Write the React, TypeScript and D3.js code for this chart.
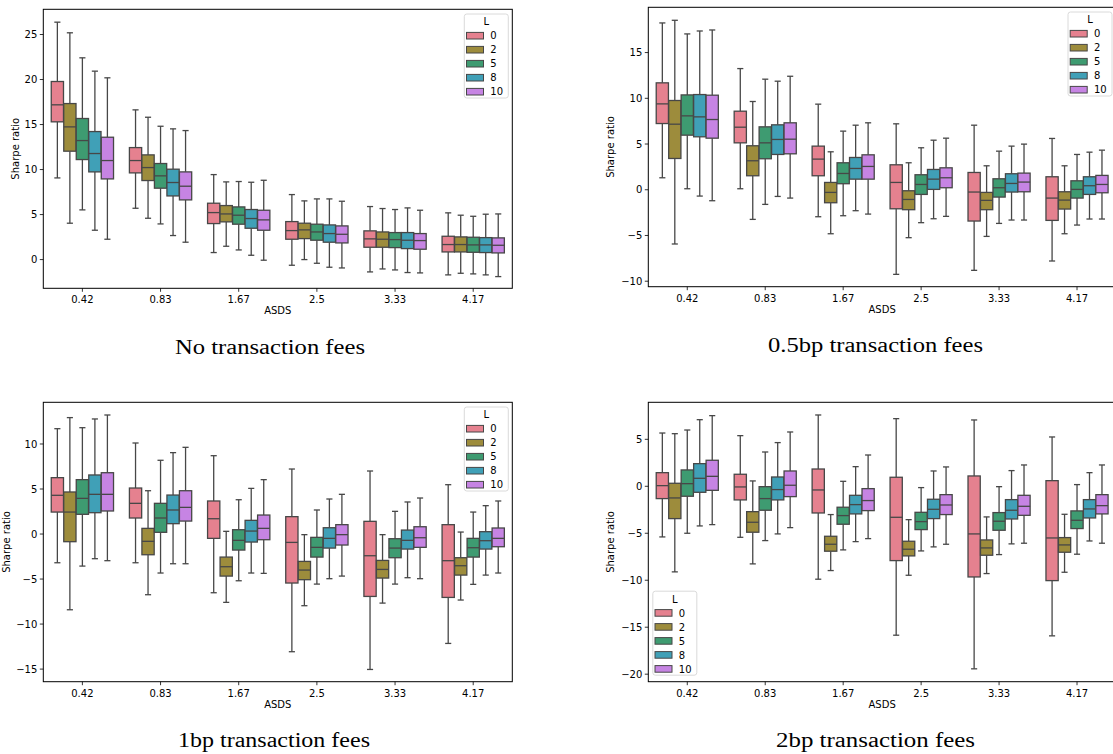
import React from 'react';
import * as d3 from 'd3';

// ---------- data ----------
const CATEGORIES = ['0.42', '0.83', '1.67', '2.5', '3.33', '4.17'];
const L_LEVELS = ['0', '2', '5', '8', '10'];
const COLORS = ['#e5818f', '#9d8c3c', '#3e9b71', '#40a0b7', '#c684e3'];

// each box: [lower whisker, q1, median, q3, upper whisker]
const noFees = [
  [[9.07, 15.3, 17.19, 19.78, 26.37], [4.04, 12.04, 14.74, 17.33, 25.19], [5.52, 11.11, 13.22, 15.67, 22.41], [3.26, 9.74, 11.78, 14.22, 20.93], [2.26, 8.96, 11.0, 13.59, 20.19]],
  [[5.7, 9.63, 11.0, 12.44, 16.63], [4.59, 8.78, 10.22, 11.63, 15.81], [3.96, 7.93, 9.3, 10.67, 14.81], [2.67, 7.07, 8.56, 10.04, 14.52], [1.93, 6.63, 8.15, 9.74, 14.33]],
  [[0.78, 4.0, 5.22, 6.26, 9.44], [1.48, 4.19, 5.07, 6.0, 8.63], [1.07, 3.93, 4.93, 5.85, 8.67], [0.48, 3.48, 4.56, 5.56, 8.59], [-0.07, 3.26, 4.41, 5.48, 8.81]],
  [[-0.63, 2.26, 3.22, 4.22, 7.22], [0.0, 2.33, 3.3, 4.04, 6.52], [-0.41, 2.15, 3.07, 3.93, 6.74], [-0.85, 1.93, 2.89, 3.85, 6.74], [-0.93, 1.85, 2.81, 3.74, 6.48]],
  [[-1.37, 1.37, 2.3, 3.19, 5.89], [-1.04, 1.37, 2.26, 3.07, 5.67], [-1.15, 1.33, 2.22, 3.0, 5.56], [-1.44, 1.22, 2.15, 3.0, 5.74], [-1.48, 1.15, 2.11, 2.89, 5.48]],
  [[-1.7, 0.85, 1.67, 2.59, 5.19], [-1.52, 0.85, 1.67, 2.52, 4.93], [-1.59, 0.81, 1.63, 2.48, 4.81], [-1.7, 0.78, 1.63, 2.44, 5.04], [-1.89, 0.74, 1.59, 2.41, 5.07]],
];

const fees05bp = [
  [[1.31, 7.24, 9.39, 11.69, 18.24], [-5.93, 3.42, 7.17, 9.76, 18.53], [0.11, 5.97, 8.08, 10.37, 17.04], [-0.69, 5.79, 7.97, 10.41, 17.36], [-1.2, 5.64, 7.68, 10.34, 17.47]],
  [[0.11, 5.13, 6.84, 8.59, 13.25], [-3.24, 1.53, 3.17, 4.81, 9.65], [-1.6, 3.39, 5.13, 6.88, 12.09], [-0.73, 3.86, 5.5, 7.1, 11.87], [-0.91, 3.93, 5.53, 7.32, 12.41]],
  [[-2.95, 1.53, 3.35, 4.77, 9.36], [-4.81, -1.42, -0.29, 0.8, 4.15], [-2.84, 0.66, 1.78, 2.95, 6.41], [-2.29, 1.16, 2.33, 3.53, 7.06], [-2.66, 1.16, 2.55, 3.82, 7.32]],
  [[-9.25, -2.08, 0.8, 2.73, 7.21], [-5.24, -2.18, -1.06, -0.11, 2.95], [-3.6, -0.51, 0.58, 1.64, 4.59], [-3.17, 0.04, 1.16, 2.22, 5.42], [-2.91, 0.22, 1.31, 2.4, 5.64]],
  [[-8.81, -3.42, -0.25, 1.89, 7.06], [-5.1, -2.18, -1.16, -0.29, 2.62], [-3.68, -0.8, 0.22, 1.2, 4.22], [-3.31, -0.25, 0.69, 1.75, 4.77], [-3.31, -0.22, 0.84, 1.82, 4.99]],
  [[-7.79, -3.35, -0.91, 1.42, 5.61], [-4.81, -2.11, -1.13, -0.22, 2.62], [-3.86, -0.91, 0.04, 0.98, 3.86], [-3.2, -0.51, 0.44, 1.42, 4.11], [-3.2, -0.33, 0.58, 1.57, 4.33]],
];

const fees1bp = [
  [[-3.19, 2.44, 4.3, 6.26, 11.7], [-8.41, -0.85, 2.44, 4.67, 12.93], [-3.56, 2.19, 3.96, 6.04, 11.81], [-2.74, 2.37, 4.41, 6.56, 12.78], [-2.96, 2.56, 4.41, 6.81, 13.22]],
  [[-3.19, 1.78, 3.41, 5.11, 10.11], [-6.74, -2.3, -0.81, 0.63, 4.81], [-4.33, 0.19, 1.78, 3.41, 8.19], [-3.3, 1.15, 2.67, 4.33, 9.04], [-3.3, 1.44, 2.96, 4.81, 9.63]],
  [[-6.52, -0.48, 1.7, 3.67, 8.7], [-7.59, -4.67, -3.63, -2.56, 0.3], [-5.19, -1.78, -0.7, 0.48, 3.81], [-4.33, -0.89, 0.33, 1.52, 5.07], [-4.37, -0.63, 0.63, 2.11, 6.04]],
  [[-13.07, -5.44, -0.93, 1.93, 7.22], [-7.96, -5.07, -4.0, -3.04, -0.07], [-5.56, -2.56, -1.48, -0.37, 2.67], [-4.96, -1.56, -0.48, 0.7, 3.89], [-4.67, -1.22, -0.07, 1.04, 4.41]],
  [[-15.04, -6.93, -2.41, 1.41, 7.0], [-7.67, -4.89, -3.93, -2.93, -0.07], [-5.56, -2.63, -1.56, -0.52, 2.52], [-4.85, -1.67, -0.7, 0.44, 3.56], [-4.96, -1.48, -0.41, 0.81, 4.0]],
  [[-12.15, -7.04, -2.96, 1.04, 5.48], [-7.33, -4.56, -3.52, -2.63, 0.22], [-5.59, -2.56, -1.52, -0.48, 2.44], [-4.56, -1.67, -0.74, 0.26, 3.15], [-4.33, -1.41, -0.48, 0.67, 3.67]],
];

const fees2bp = [
  [[-5.39, -1.31, 0.07, 1.45, 5.67], [-9.11, -3.44, -1.24, 0.32, 5.6], [-5.0, -1.06, 0.28, 1.74, 5.99], [-4.22, -0.64, 0.85, 2.41, 7.09], [-4.08, -0.43, 1.06, 2.77, 7.52]],
  [[-5.43, -1.45, -0.07, 1.28, 5.39], [-8.26, -4.89, -3.83, -2.7, 0.57], [-5.78, -2.55, -1.31, -0.04, 3.65], [-5.07, -1.45, -0.35, 0.99, 4.65], [-4.4, -1.1, 0.11, 1.63, 5.78]],
  [[-9.89, -2.84, -0.39, 1.84, 7.59], [-8.97, -6.91, -6.17, -5.32, -3.01], [-6.77, -4.04, -3.12, -2.23, 0.53], [-5.89, -2.94, -1.95, -0.96, 2.09], [-5.57, -2.59, -1.52, -0.25, 3.33]],
  [[-15.85, -7.91, -3.3, 0.96, 7.2], [-9.47, -7.41, -6.7, -5.85, -3.55], [-6.88, -4.61, -3.76, -2.77, -0.14], [-6.45, -3.44, -2.45, -1.38, 1.63], [-6.17, -3.01, -1.99, -0.89, 2.06]],
  [[-19.43, -9.65, -5.07, 1.1, 7.06], [-9.29, -7.34, -6.56, -5.71, -3.26], [-7.27, -4.68, -3.72, -2.8, -0.04], [-6.13, -3.48, -2.55, -1.42, 1.67], [-6.06, -3.09, -2.13, -0.96, 2.27]],
  [[-15.92, -10.04, -5.5, 0.6, 5.25], [-9.15, -7.02, -6.24, -5.46, -2.98], [-7.23, -4.5, -3.62, -2.62, 0.18], [-5.82, -3.37, -2.41, -1.42, 1.45], [-6.06, -2.94, -2.06, -0.89, 2.27]],
];

const Y_TICKS_NO_FEES = [0, 5, 10, 15, 20, 25];
const Y_TICKS_05BP = [-10, -5, 0, 5, 10, 15];
const Y_TICKS_1BP = [-15, -10, -5, 0, 5, 10];
const Y_TICKS_2BP = [-20, -15, -10, -5, 0, 5];

const CAPTIONS = ['No transaction fees', '0.5bp transaction fees', '1bp transaction fees', '2bp transaction fees'];

// ---------- layout ----------
const FONT = 'DejaVu Sans, sans-serif';
const EDGE = '#474747';

type PanelCfg = {
  data: number[][][];
  ticks: number[];
  x0: number; x1: number; y0: number; y1: number;
  domain: [number, number];
  legend: 'ur' | 'll';
  ylabX: number;
  caption: string; capX: number; capY: number; capLen: number;
};

const panels: PanelCfg[] = [
  { data: noFees, ticks: Y_TICKS_NO_FEES, x0: 43.3, x1: 512.3, y0: 9.3, y1: 288.3, domain: [-3.19, 27.8], legend: 'ur', ylabX: 18.5, caption: CAPTIONS[0], capX: 270, capY: 354, capLen: 190 },
  { data: fees05bp, ticks: Y_TICKS_05BP, x0: 648.3, x1: 1116, y0: 7.3, y1: 286.7, domain: [-10.6, 19.95], legend: 'ur', ylabX: 614, caption: CAPTIONS[1], capX: 875.5, capY: 352, capLen: 215 },
  { data: fees1bp, ticks: Y_TICKS_1BP, x0: 43.3, x1: 512.3, y0: 402.3, y1: 681.7, domain: [-16.4, 14.63], legend: 'ur', ylabX: 9.8, caption: CAPTIONS[2], capX: 274, capY: 747, capLen: 192 },
  { data: fees2bp, ticks: Y_TICKS_2BP, x0: 648.3, x1: 1116, y0: 402.3, y1: 681.7, domain: [-20.8, 8.94], legend: 'll', ylabX: 614, caption: CAPTIONS[3], capX: 875.5, capY: 747, capLen: 199 },
];

function Panel({ p }: { p: PanelCfg }) {
  const x = d3.scaleBand<string>().domain(CATEGORIES).range([p.x0, p.x1]).padding(0);
  const y = d3.scaleLinear().domain(p.domain).range([p.y1, p.y0]);
  const bw = x.bandwidth();
  const groupW = bw * 0.8;
  const each = groupW / L_LEVELS.length;
  const boxW = each * 0.98;
  const capW = boxW * 0.5;

  const legW = 44;
  const legH = 84;
  const legX = p.legend === 'ur' ? p.x1 - 4 - legW : p.x0 + 4.5;
  const legY = p.legend === 'ur' ? p.y0 + 4.7 : p.y1 - 6.5 - legH;

  return (
    <g>
      {/* boxes */}
      {CATEGORIES.map((c, ci) => (
        <g key={c}>
          {p.data[ci].map((b, li) => {
            const cx = (x(c) as number) + bw / 2 - groupW / 2 + each * (li + 0.5);
            const [lo, q1, med, q3, hi] = b;
            return (
              <g key={li} stroke={EDGE} strokeWidth={1.3}>
                <line x1={cx} x2={cx} y1={y(q3)} y2={y(hi)} />
                <line x1={cx} x2={cx} y1={y(q1)} y2={y(lo)} />
                <line x1={cx - capW / 2} x2={cx + capW / 2} y1={y(hi)} y2={y(hi)} />
                <line x1={cx - capW / 2} x2={cx + capW / 2} y1={y(lo)} y2={y(lo)} />
                <rect x={cx - boxW / 2} width={boxW} y={y(q3)} height={y(q1) - y(q3)} fill={COLORS[li]} />
                <line x1={cx - boxW / 2} x2={cx + boxW / 2} y1={y(med)} y2={y(med)} />
              </g>
            );
          })}
        </g>
      ))}
      {/* frame */}
      <rect x={p.x0} y={p.y0} width={p.x1 - p.x0} height={p.y1 - p.y0} fill="none" stroke="#000" strokeWidth={1} />
      {/* y ticks */}
      {p.ticks.map((t) => (
        <g key={t}>
          <line x1={p.x0 - 3.5} x2={p.x0} y1={y(t)} y2={y(t)} stroke="#000" strokeWidth={0.8} />
          <text x={p.x0 - 6} y={y(t)} dy="0.36em" textAnchor="end" fontSize={10} fontFamily={FONT} fill="#000">
            {t < 0 ? '\u2212' + Math.abs(t) : String(t)}
          </text>
        </g>
      ))}
      {/* x ticks */}
      {CATEGORIES.map((c) => {
        const cx = (x(c) as number) + bw / 2;
        return (
          <g key={c}>
            <line x1={cx} x2={cx} y1={p.y1} y2={p.y1 + 3.5} stroke="#000" strokeWidth={0.8} />
            <text x={cx} y={p.y1 + 15} textAnchor="middle" fontSize={10} fontFamily={FONT} fill="#000">{c}</text>
          </g>
        );
      })}
      <text x={(p.x0 + p.x1) / 2} y={p.y1 + 26} textAnchor="middle" fontSize={10} fontFamily={FONT} fill="#000">ASDS</text>
      <text transform={`translate(${p.ylabX},${(p.y0 + p.y1) / 2}) rotate(-90)`} textAnchor="middle" fontSize={10} fontFamily={FONT} fill="#000">Sharpe ratio</text>
      {/* legend */}
      <g>
        <rect x={legX} y={legY} width={legW} height={legH} rx={2.5} fill="#fff" fillOpacity={0.8} stroke="#d0d0d0" strokeWidth={0.8} />
        <text x={legX + legW / 2} y={legY + 7.7} dy="0.36em" textAnchor="middle" fontSize={10} fontFamily={FONT} fill="#000">L</text>
        {L_LEVELS.map((l, i) => {
          const ry = legY + 21.7 + i * 14;
          return (
            <g key={l}>
              <rect x={legX + 2.2} y={ry - 3.3} width={17} height={6.6} fill={COLORS[i]} stroke={EDGE} strokeWidth={1} />
              <text x={legX + 26} y={ry} dy="0.36em" fontSize={10} fontFamily={FONT} fill="#000">{l}</text>
            </g>
          );
        })}
      </g>
      {/* caption */}
      <text x={p.capX} y={p.capY} textAnchor="middle" fontSize={20} fontFamily="Liberation Serif, serif" fill="#000" textLength={p.capLen} lengthAdjust="spacingAndGlyphs">{p.caption}</text>
    </g>
  );
}

export default function App() {
  return (
    <svg width={1113} height={754} viewBox="0 0 1113 754" style={{ position: 'absolute', left: 0, top: 0, background: '#fff' }}>
      <rect x={0} y={0} width={1113} height={754} fill="#fff" />
      {panels.map((p, i) => <Panel key={i} p={p} />)}
    </svg>
  );
}
